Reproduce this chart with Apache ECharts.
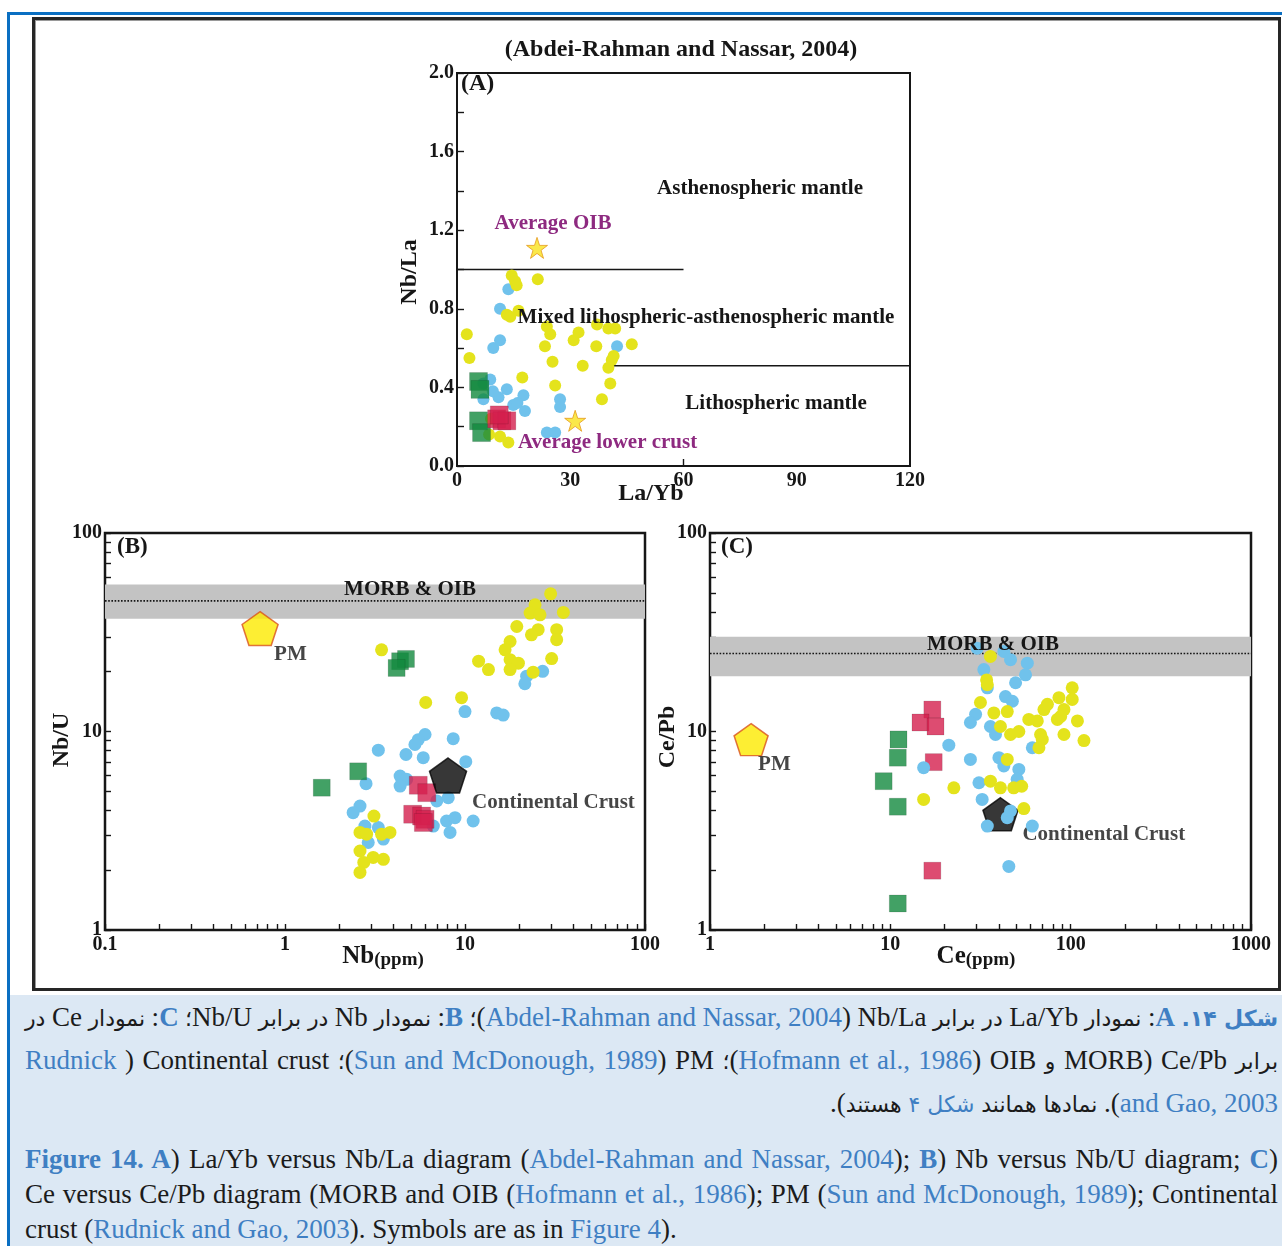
<!DOCTYPE html>
<html>
<head>
<meta charset="utf-8">
<script src="https://cdn.jsdelivr.net/npm/echarts@6/dist/echarts.min.js"></script>
<style>
  html, body { margin: 0; padding: 0; background: #fff; }
  body { width: 1282px; height: 1246px; position: relative; overflow: hidden; }
  #frameBlue { position: absolute; left: 7px; top: 12px; width: 1280px; height: 1240px;
    border-top: 3px solid #0a6fc2; border-left: 3px solid #0a6fc2; }
  #frameBlack { position: absolute; left: 32px; top: 17px; width: 1243px; height: 968px;
    border: 3px solid #262626; box-shadow: inset 1px 1px 0 #9a9a9a; }
  #chart { position: absolute; left: 0; top: 0; width: 1282px; height: 994px; }
  #caption { position: absolute; left: 10px; top: 995px; width: 1272px; height: 251px; background: #dce8f4; }
  .ln { position: absolute; left: 15px; width: 1253px; white-space: nowrap; color: #1b1b1b;
    font-family: "Liberation Serif", "DejaVu Sans", serif; font-size: 27px; line-height: 32px;
    text-align: justify; text-align-last: justify; }
  .fa { direction: rtl; word-spacing: -4px; }
  .ar { font-family: "DejaVu Sans", sans-serif; font-size: 22px; }
  .last { text-align-last: start; }
  .c { color: #3f7fc3; }
  .b { font-weight: bold; }
</style>
</head>
<body>
<div id="frameBlue"></div>
<div id="frameBlack"></div>
<div id="chart"></div>
<div id="caption">
  <div class="ln fa" dir="rtl" style="top:6px"><span class="c b"><span class="ar">شکل ۱۴.</span> <bdi>A</bdi></span>: <span class="ar">نمودار</span> <bdi>La/Yb</bdi> <span class="ar">در برابر</span> <bdi>Nb/La</bdi> (<bdi class="c">Abdel-Rahman and Nassar, 2004</bdi>)<span class="ar">؛</span> <bdi class="c b">B</bdi>: <span class="ar">نمودار</span> <bdi>Nb</bdi> <span class="ar">در برابر</span> <bdi>Nb/U</bdi><span class="ar">؛</span> <bdi class="c b">C</bdi>: <span class="ar">نمودار</span> <bdi>Ce</bdi> <span class="ar">در</span></div>
  <div class="ln fa" dir="rtl" style="top:49px"><span class="ar">برابر</span> <bdi>Ce/Pb</bdi> (<bdi>MORB</bdi> <span class="ar">و</span> <bdi>OIB</bdi> (<bdi class="c">Hofmann et al., 1986</bdi>)<span class="ar">؛</span> <bdi>PM</bdi> (<bdi class="c">Sun and McDonough, 1989</bdi>)<span class="ar">؛</span> <bdi>Continental crust</bdi> ( <bdi class="c">Rudnick</bdi></div>
  <div class="ln fa last" dir="rtl" style="top:92px; word-spacing:0"><bdi class="c">and Gao, 2003</bdi>). <span class="ar">نمادها همانند</span> <span class="c ar">شکل ۴</span> <span class="ar">هستند</span>).</div>
  <div class="ln" style="top:148px"><span class="c b">Figure 14. A</span>) La/Yb versus Nb/La diagram (<span class="c">Abdel-Rahman and Nassar, 2004</span>); <span class="c b">B</span>) Nb versus Nb/U diagram; <span class="c b">C</span>)</div>
  <div class="ln" style="top:183px">Ce versus Ce/Pb diagram (MORB and OIB (<span class="c">Hofmann et al., 1986</span>); PM (<span class="c">Sun and McDonough, 1989</span>); Continental</div>
  <div class="ln last" style="top:218px">crust (<span class="c">Rudnick and Gao, 2003</span>). Symbols are as in <span class="c">Figure 4</span>).</div>
</div>
<script>
// ---------- (A) La/Yb vs Nb/La ----------
const aYellow = [[14.5,0.97],[15.4,0.94],[15.8,0.92],[21.4,0.95],[2.6,0.67],[3.3,0.55],[13.2,0.77],[14.1,0.76],
  [16.3,0.79],[23.8,0.71],[24.7,0.67],[23.3,0.61],[25.3,0.53],[26,0.41],[17.3,0.45],[30.9,0.64],[32.2,0.68],
  [33.3,0.51],[37.1,0.72],[40.1,0.70],[41.9,0.70],[36.9,0.61],[38.4,0.34],[40.1,0.50],[40.6,0.42],[41,0.54],
  [41.5,0.56],[46.3,0.62],[11.4,0.15],[13.6,0.12],[9,0.24],[8.5,0.16]];
const aBlue = [[13.6,0.90],[11.4,0.80],[9.6,0.60],[11.4,0.64],[7,0.42],[8.8,0.44],[13.2,0.39],[14.9,0.31],
  [17.6,0.36],[18,0.28],[11,0.35],[7,0.34],[27.3,0.34],[27.3,0.30],[23.8,0.17],[26,0.17],[42.4,0.61],[9.5,0.38],[16,0.32]];
const aGreen = [[5.7,0.43],[6.1,0.39],[5.7,0.23],[6.5,0.17]];
const aRed = [[10.5,0.24],[11.9,0.23],[13.2,0.23],[11.2,0.26]];
const aAverageOIB = [[21.2,1.11]];
const aAverageLowerCrust = [[31.3,0.23]];
const aBoundaryUpper = [[0,1.0],[60,1.0]];
const aBoundaryLower = [[40,0.51],[120,0.51]];
const aTicksX = [0,30,60,90,120];

// ---------- (B) Nb vs Nb/U ----------
const bYellow = [[29.9,49.4],[24.5,43.5],[23.0,39.5],[26.1,38.7],[35.2,39.8],[19.4,33.8],[25.5,32.6],[23.4,30.7],
  [32.3,32.6],[32.3,29],[17.8,28.4],[16.7,25.8],[17.8,23],[19.8,22.1],[17.8,20.5],[11.9,22.6],[13.5,20.5],
  [30.3,23.3],[23.9,19.9],[3.44,25.8],[9.57,14.8],[6.05,14.0],[3.12,3.75],[2.61,3.1],[2.84,3.04],[3.44,3.04],
  [3.83,3.1],[2.61,2.5],[2.74,2.19],[3.09,2.32],[3.52,2.27],[2.61,1.95]];
const bBlue = [[22.0,19],[21.5,17.4],[27.0,20.1],[10,12.6],[15.0,12.4],[16.3,12.1],[6.0,9.66],[5.5,9.1],
  [5.27,8.6],[8.6,9.2],[3.3,8.05],[4.7,7.66],[5.86,7.38],[10.1,7.05],[4.36,5.96],[4.74,5.74],[4.36,5.31],
  [2.82,5.46],[6.97,4.47],[8.07,4.64],[2.61,4.21],[2.39,3.9],[7.9,3.54],[8.8,3.68],[11.1,3.54],[8.26,3.1],
  [6.67,3.34],[2.78,3.34],[3.3,3.28],[2.9,2.76],[3.52,2.87]];
const bGreen = [[2.55,6.3],[1.6,5.21],[4.36,22.6],[4.7,23.2],[4.17,20.9]];
const bRed = [[5.5,5.36],[6.13,4.92],[5.12,3.83],[5.74,3.75],[6.0,3.61],[5.87,3.48]];
const bPM = [[0.727,33]];
const bContinentalCrust = [[8.05,6.0]];
const bMorbOibBand = [37, 55];
const bMorbOibMean = 45.5;
const bTicksX = [0.1, 1, 10, 100];
const bTicksY = [1, 10, 100];

// ---------- (C) Ce vs Ce/Pb ----------
const cYellow = [[35.9,23.9],[34.2,18.2],[34.5,17.2],[31.6,14.0],[37.5,12.4],[44.5,12.6],[40.8,10.6],[46.4,9.66],
  [51.6,10.0],[58.6,11.5],[65.3,11.3],[68.1,9.66],[69.6,9.12],[66.7,8.28],[71.1,12.9],[74.3,13.7],[86.1,14.8],
  [102,16.6],[102,14.5],[91.8,12.9],[84.4,11.5],[88,11.9],[109,11.3],[91.8,9.66],[118.5,9.0],[44.5,7.23],
  [35.9,5.62],[40.8,5.2],[48.3,5.2],[53.5,5.3],[22.5,5.2],[15.3,4.55],[55,4.09]];
const cBlue = [[30.3,26.3],[42.6,25.3],[46.4,23],[57.5,22.1],[56.2,19.3],[49.5,17.6],[33,20.5],[34.5,16.6],
  [43.5,15.0],[47.5,14.2],[29.7,12.2],[27.8,11.1],[35.9,10.6],[38.3,9.66],[21.1,8.53],[61.3,8.28],[27.8,7.23],
  [40,7.38],[42.6,6.7],[15.3,6.57],[51.6,6.44],[50.5,5.74],[31,5.52],[32.3,4.55],[44.5,3.68],[34.5,3.34],
  [46.4,3.98],[61.3,3.34],[45.4,2.09]];
const cGreen = [[11.1,9.12],[11.0,7.38],[9.18,5.62],[11.0,4.18],[11.0,1.36]];
const cRed = [[17.1,12.9],[14.7,11.1],[17.8,10.6],[17.4,7.01],[17.1,1.99]];
const cPM = [[1.69,9.1]];
const cContinentalCrust = [[40.8,3.83]];
const cMorbOibBand = [19, 30];
const cMorbOibMean = 24.7;
const cTicksX = [1, 10, 100, 1000];
const cTicksY = [1, 10, 100];

// ---------- styling ----------
const SERIF = '"Liberation Serif", "Times New Roman", serif';
const INK = '#161616';
const YEL = '#e4e31c', BLU = '#70c2ec', GRN = '#13893f', RED = '#d51f4e', PURPLE = '#8e2a80';
const PENTAGON = 'path://M50,0 L97.6,34.5 L79.4,90.5 L20.6,90.5 L2.4,34.5 Z';
const STAR = 'path://M50,0 L61.8,35.1 L98.9,35.1 L68.8,56.7 L80.3,91.9 L50,70.2 L19.7,91.9 L31.2,56.7 L1.1,35.1 L38.2,35.1 Z';

// minor ticks of a log axis: 1..9 within every decade between the labelled powers
function decadeTicks(powers) {
  const out = [];
  for (let i = 0; i < powers.length - 1; i++) {
    for (let m = 1; m < 10; m++) out.push(powers[i] * m);
  }
  out.push(powers[powers.length - 1]);
  return out;
}
function fmtLog(v) { return v < 1 ? v.toFixed(1) : String(Math.round(v)); }

const labelFont = { color: INK, fontFamily: SERIF, fontWeight: 'bold', fontSize: 20 };
const axisLine = { show: true, lineStyle: { color: INK, width: 2 } };
const tickStyle = { color: INK, width: 1.4 };

function logAxis(gi, powers, extra) {
  return Object.assign({
    type: 'log', logBase: 10, gridIndex: gi,
    min: powers[0], max: powers[powers.length - 1],
    axisLine: axisLine,
    axisTick: { show: true, inside: true, length: 6, customValues: decadeTicks(powers), lineStyle: tickStyle },
    axisLabel: Object.assign({ customValues: powers, formatter: fmtLog, margin: 5 }, labelFont),
    splitLine: { show: false }, minorTick: { show: false }
  }, extra || {});
}

function pts(name, data, gi, color, symbol, size, extra) {
  return Object.assign({
    name: name, type: 'scatter', xAxisIndex: gi, yAxisIndex: gi, data: data,
    symbol: symbol, symbolSize: size,
    itemStyle: { color: color, opacity: 1 },
    emphasis: { disabled: true }, z: 3
  }, extra || {});
}
function squares(name, data, gi, color, size) {
  return pts(name, data, gi, color, 'rect', size, {
    itemStyle: { color: color, borderColor: 'rgba(0,0,0,0.25)', borderWidth: 0.6 }, z: 4 });
}
function refLine(data, gi, type) {
  return { type: 'line', xAxisIndex: gi, yAxisIndex: gi, data: data, symbol: 'none', silent: true,
    lineStyle: { color: INK, width: type === 'dotted' ? 1.6 : 1.5, type: type || 'solid' }, z: 2 };
}
function bandSeries(gi, band) {
  return { type: 'line', xAxisIndex: gi, yAxisIndex: gi, data: [], silent: true,
    markArea: { silent: true, itemStyle: { color: '#c3c3c3' }, data: [[{ yAxis: band[0] }, { yAxis: band[1] }]] } };
}
function refPoint(data, gi, fill, stroke, size, text, dx, dy) {
  return pts(text, data, gi, fill, PENTAGON, size, {
    itemStyle: { color: fill, borderColor: stroke, borderWidth: 1.5 },
    label: { show: true, formatter: text, position: 'inside', align: 'left', verticalAlign: 'middle',
      offset: [dx, dy], color: INK, fontFamily: SERIF, fontWeight: 'bold', fontSize: 21 },
    z: 5
  });
}
function txt(text, x, y, opts) {
  const o = opts || {};
  return {
    type: 'text', x: x, y: y, rotation: o.rotation || 0, silent: true, z: 10,
    style: {
      text: text, fill: o.fill || INK,
      font: 'bold ' + (o.size || 21) + 'px ' + SERIF,
      textAlign: o.align || 'center', align: o.align || 'center',
      textVerticalAlign: 'middle', verticalAlign: 'middle'
    }
  };
}
function ppmName(sym, x, y) {
  return {
    type: 'text', x: x, y: y, silent: true, z: 10,
    style: {
      text: '{a|' + sym + '}{b|(ppm)}', textAlign: 'center', align: 'center',
      textVerticalAlign: 'middle', verticalAlign: 'middle', fill: INK,
      rich: {
        a: { fontFamily: SERIF, fontWeight: 'bold', fontSize: 25, fill: INK, color: INK, verticalAlign: 'bottom' },
        b: { fontFamily: SERIF, fontWeight: 'bold', fontSize: 19, fill: INK, color: INK, verticalAlign: 'bottom' }
      }
    }
  };
}

const option = {
  animation: false,
  backgroundColor: 'transparent',
  grid: [
    { left: 457, top: 73, width: 453, height: 393, show: true, borderColor: INK, borderWidth: 2, backgroundColor: 'transparent' },
    { left: 105, top: 533, width: 540, height: 397, show: true, borderColor: INK, borderWidth: 2.5, backgroundColor: 'transparent' },
    { left: 710, top: 533, width: 541, height: 397, show: true, borderColor: INK, borderWidth: 2.5, backgroundColor: 'transparent' }
  ],
  xAxis: [
    { type: 'value', gridIndex: 0, min: aTicksX[0], max: aTicksX[aTicksX.length - 1], interval: 30,
      axisLine: axisLine, splitLine: { show: false },
      axisTick: { show: true, inside: true, length: 7, customValues: [60], lineStyle: tickStyle },
      axisLabel: Object.assign({ margin: 5 }, labelFont) },
    logAxis(1, bTicksX),
    logAxis(2, cTicksX)
  ],
  yAxis: [
    { type: 'value', gridIndex: 0, min: 0, max: 2, interval: 0.4,
      axisLine: axisLine, splitLine: { show: false },
      axisTick: { show: true, inside: true, length: 7, lineStyle: tickStyle },
      minorTick: { show: true, splitNumber: 2, length: 7, lineStyle: tickStyle },
      axisLabel: Object.assign({ margin: 3, formatter: v => v.toFixed(1) }, labelFont) },
    logAxis(1, bTicksY, { axisLabel: Object.assign({ customValues: bTicksY, formatter: fmtLog, margin: 3 }, labelFont) }),
    logAxis(2, cTicksY, { axisLabel: Object.assign({ customValues: cTicksY, formatter: fmtLog, margin: 3 }, labelFont) })
  ],
  series: [
    // (A)
    refLine(aBoundaryUpper, 0),
    refLine(aBoundaryLower, 0),
    pts('Blue', aBlue, 0, BLU, 'circle', 12),
    pts('Yellow', aYellow, 0, YEL, 'circle', 12),
    squares('Green', aGreen, 0, GRN, 18),
    squares('Red', aRed, 0, RED, 18),
    pts('Average OIB', aAverageOIB, 0, '#f9e21d', STAR, 21, { itemStyle: { color: '#f9e21d', borderColor: '#e59a1c', borderWidth: 1 }, z: 5 }),
    pts('Average lower crust', aAverageLowerCrust, 0, '#f9e21d', STAR, 21, { itemStyle: { color: '#f9e21d', borderColor: '#e59a1c', borderWidth: 1 }, z: 5 }),
    // (B)
    bandSeries(1, bMorbOibBand),
    refLine([[bTicksX[0], bMorbOibMean], [bTicksX[bTicksX.length - 1], bMorbOibMean]], 1, 'dotted'),
    pts('Blue', bBlue, 1, BLU, 'circle', 13),
    pts('Yellow', bYellow, 1, YEL, 'circle', 13),
    squares('Green', bGreen, 1, GRN, 17),
    squares('Red', bRed, 1, RED, 18),
    refPoint(bPM, 1, '#fdea00', '#d9531e', [36, 34], 'PM', 14, 26),
    refPoint(bContinentalCrust, 1, '#050505', '#050505', [37, 35], 'Continental Crust', 24, 27),
    // (C)
    bandSeries(2, cMorbOibBand),
    refLine([[cTicksX[0], cMorbOibMean], [cTicksX[cTicksX.length - 1], cMorbOibMean]], 2, 'dotted'),
    refPoint(cPM, 2, '#fdea00', '#d9531e', [34, 32], 'PM', 7, 25),
    refPoint(cContinentalCrust, 2, '#050505', '#050505', [35, 33], 'Continental Crust', 22, 20),
    pts('Blue', cBlue, 2, BLU, 'circle', 13, { z: 6 }),
    pts('Yellow', cYellow, 2, YEL, 'circle', 13, { z: 6 }),
    squares('Green', cGreen, 2, GRN, 17),
    squares('Red', cRed, 2, RED, 17)
  ],
  graphic: [
    txt('(Abdei-Rahman and Nassar, 2004)', 681, 50, { size: 24 }),
    txt('(A)', 461, 84, { size: 24, align: 'left' }),
    txt('Asthenospheric mantle', 760, 189),
    txt('Mixed lithospheric-asthenospheric mantle', 706, 318),
    txt('Lithospheric mantle', 776, 404),
    txt('Average OIB', 553, 224, { fill: PURPLE }),
    txt('Average lower crust', 518, 443, { fill: PURPLE, align: 'left' }),
    txt('La/Yb', 651, 494, { size: 24 }),
    txt('Nb/La', 410, 272, { size: 24, rotation: Math.PI / 2 }),
    txt('(B)', 117, 547, { size: 23, align: 'left' }),
    txt('MORB & OIB', 410, 590),
    txt('Nb/U', 62, 740, { size: 24, rotation: Math.PI / 2 }),
    ppmName('Nb', 383, 957),
    txt('(C)', 721, 547, { size: 23, align: 'left' }),
    txt('MORB & OIB', 993, 645),
    txt('Ce/Pb', 668, 737, { size: 24, rotation: Math.PI / 2 }),
    ppmName('Ce', 976, 957)
  ]
};

const chart = echarts.init(document.getElementById('chart'), null, { renderer: 'canvas' });
chart.setOption(option);
</script>
</body>
</html>
